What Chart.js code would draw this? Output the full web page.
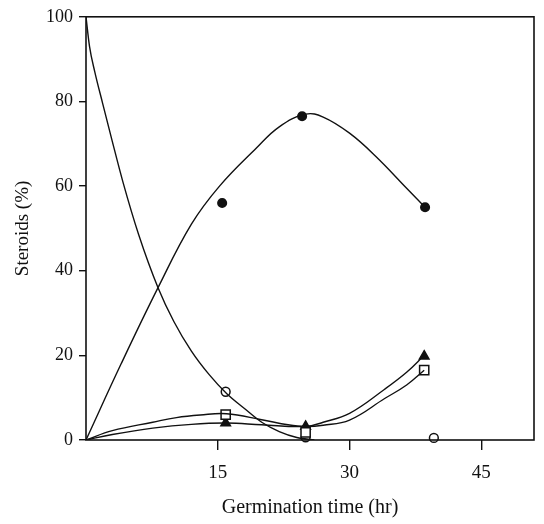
<!DOCTYPE html>
<html>
<head>
<meta charset="utf-8">
<script src="https://cdn.jsdelivr.net/npm/chart.js@4.4.1/dist/chart.umd.min.js"></script>
<style>
  html, body { margin: 0; padding: 0; background: #fff; }
  #wrap { width: 544px; height: 524px; }
</style>
</head>
<body>
<div id="wrap"><canvas id="chart"></canvas></div>
<script>
'use strict';

// ── Axis ticks ───────────────────────────────────────────────────────────────
var xTicks = [15, 30, 45];
var yTicks = [0, 20, 40, 60, 80, 100];

// ── Measured points (hr, %) ──────────────────────────────────────────────────
var filledCircleX = [15.5, 24.6, 38.6];
var filledCircleY = [56, 76.5, 55];

var openCircleX = [15.9, 25, 39.6];
var openCircleY = [11.4, 0.6, 0.5];

var squareX = [15.9, 25, 38.5];
var squareY = [6, 1.8, 16.5];

var triangleX = [15.9, 25, 38.5];
var triangleY = [4, 3.2, 19.8];

// ── Fitted curves ───────────────────────────────────────────────────────────
var filledCurveX = [0, 4, 8.2, 12, 15.2, 19.4, 22, 25, 27, 30, 33, 36.5, 38.6];
var filledCurveY = [0, 18, 36, 51, 60, 69, 74, 77, 76.3, 72.5, 67, 59.5, 55];

var openCurveX = [0, 0.4, 1, 1.9, 3, 4.2, 6, 8.2, 10, 12, 14, 16, 18, 20, 22, 24, 26];
var openCurveY = [100, 93, 87, 79.5, 70.5, 61, 48.5, 36, 28, 21, 15.5, 11, 7.5, 4.2, 2, 0.6, 0];

var squareCurveX = [0, 3, 7.6, 10.3, 13, 16, 20, 23, 25, 27, 30, 34, 36.5, 38.5];
var squareCurveY = [0, 2.2, 4.2, 5.3, 5.9, 6.2, 4.8, 3.6, 3.2, 3.5, 4.7, 9.8, 13, 16.5];

var triangleCurveX = [0, 3, 7.6, 12, 16, 20, 25, 27, 30, 34, 36.5, 38.5];
var triangleCurveY = [0, 1.3, 2.8, 3.7, 4, 3.6, 3.2, 4.2, 6.3, 12, 16, 20];

// ── Helper: zip x/y arrays into {x, y} points ───────────────────────────────
function pts(xs, ys) {
    return xs.map(function (x, i) { return { x: x, y: ys[i] }; });
}

var FONT = "'Liberation Serif', 'DejaVu Serif', serif";
var INK = '#111';

function curve(xs, ys, mode) {
    return {
        type: 'line',
        data: pts(xs, ys),
        borderColor: INK,
        borderWidth: 1.4,
        pointRadius: 0,
        tension: 0.4,
        cubicInterpolationMode: mode || 'default',
        fill: false
    };
}

function markers(xs, ys, style, fill, radius) {
    return {
        type: 'scatter',
        data: pts(xs, ys),
        pointStyle: style,
        pointRadius: radius,
        pointBackgroundColor: fill,
        pointBorderColor: INK,
        pointBorderWidth: 1.5,
        clip: false
    };
}

// frame round the plot area
var framePlugin = {
    id: 'frame',
    afterDraw: function (chart) {
        var a = chart.chartArea, ctx = chart.ctx;
        ctx.save();
        ctx.strokeStyle = INK;
        ctx.lineWidth = 1.6;
        ctx.strokeRect(a.left, a.top, a.right - a.left, a.bottom - a.top);
        ctx.restore();
    }
};

new Chart(document.getElementById('chart').getContext('2d'), {
    data: {
        datasets: [
            curve(filledCurveX, filledCurveY),
            curve(openCurveX, openCurveY, 'monotone'),
            curve(squareCurveX, squareCurveY),
            curve(triangleCurveX, triangleCurveY),
            markers(squareX, squareY, 'rect', '#fff', 6.5),
            markers(triangleX, triangleY, 'triangle', INK, 5.5),
            markers(openCircleX, openCircleY, 'circle', '#fff', 4.4),
            markers(filledCircleX, filledCircleY, 'circle', INK, 4.3)
        ]
    },
    options: {
        responsive: true,
        maintainAspectRatio: false,
        animation: false,
        events: [],
        layout: { padding: { top: 12, right: 10, left: 8, bottom: 0 } },
        plugins: {
            legend: { display: false },
            tooltip: { enabled: false }
        },
        scales: {
            x: {
                type: 'linear',
                min: 0,
                max: 51,
                afterBuildTicks: function (s) {
                    s.ticks = xTicks.map(function (v) { return { value: v }; });
                },
                afterFit: function (s) { s.height = 84; },
                border: { display: false },
                grid: { drawOnChartArea: false, drawTicks: true, tickLength: 10, tickColor: INK, lineWidth: 1.4 },
                ticks: { color: INK, font: { family: FONT, size: 19 }, padding: 12, maxRotation: 0 },
                title: {
                    display: true,
                    text: 'Germination time (hr)',
                    color: INK,
                    font: { family: FONT, size: 20 },
                    padding: { top: 12 }
                }
            },
            y: {
                type: 'linear',
                min: 0,
                max: 100,
                afterBuildTicks: function (s) {
                    s.ticks = yTicks.map(function (v) { return { value: v }; });
                },
                afterFit: function (s) { s.width = 78; },
                border: { display: false },
                grid: { drawOnChartArea: false, drawTicks: true, tickLength: 7, tickColor: INK, lineWidth: 1.4 },
                ticks: { color: INK, font: { family: FONT, size: 18 }, padding: 6 },
                title: {
                    display: true,
                    text: 'Steroids (%)',
                    color: INK,
                    font: { family: FONT, size: 19 },
                    padding: { bottom: 2 }
                }
            }
        }
    },
    plugins: [framePlugin]
});
</script>
</body>
</html>
